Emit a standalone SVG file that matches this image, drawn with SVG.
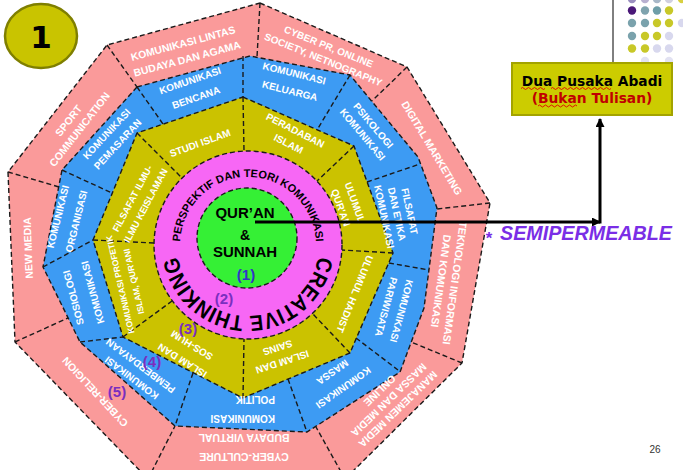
<svg xmlns="http://www.w3.org/2000/svg" width="683" height="470" viewBox="0 0 683 470">
<defs>
<style>
.ring{stroke:#1a1a1a;stroke-width:1.4;stroke-dasharray:5 3}
.dv{fill:none;stroke:#1a1a1a;stroke-width:1.4;stroke-dasharray:5 3}
.lbl{font-family:"Liberation Sans",Arial,sans-serif;font-weight:bold;fill:#ffffff;text-anchor:middle}
.pk{font-size:10.5px}
.bl{font-size:10px}
.yl{font-size:10px}
.blk{font-family:"Liberation Sans",Arial,sans-serif;font-weight:bold;fill:#000000}
.num{font-family:"Liberation Sans",Arial,sans-serif;font-weight:bold;font-size:15px;fill:#7a2fbf;text-anchor:middle}
.conn{stroke:#000;stroke-width:3;fill:none}
</style>
<marker id="ah" markerWidth="9" markerHeight="9" refX="8" refY="4.5" orient="auto" markerUnits="userSpaceOnUse">
<path d="M0,0 L9,4.5 L0,9 z" fill="#000"/>
</marker>
<path id="arcTop" d="M 180,245 A 68,68 0 0 1 316,245"/>
<path id="arcBot" d="M 319,245 A 71,71 0 0 1 177,245"/>
</defs>
<rect width="683" height="470" fill="#ffffff"/>

<g id="decor-dots">
<line x1="613" y1="0" x2="613" y2="63" stroke="#000" stroke-width="1"/>
<circle cx="632" cy="-1" r="4.2" fill="#9b8fc0"/><circle cx="645" cy="-1" r="4.2" fill="#b8b0d0"/><circle cx="657" cy="-1" r="4.2" fill="#a8b8c8"/><circle cx="669" cy="-1" r="4.2" fill="#d0d0e0"/><circle cx="682" cy="-1" r="4.2" fill="#d8d040"/>
<circle cx="632" cy="10.5" r="4.2" fill="#4a1878"/><circle cx="645" cy="10.5" r="4.2" fill="#7fa3ae"/><circle cx="657" cy="10.5" r="4.2" fill="#6e9ea8"/><circle cx="669" cy="10.5" r="4.2" fill="#c8c828"/>
<circle cx="632" cy="23" r="4.2" fill="#7aa2ac"/><circle cx="645" cy="23" r="4.2" fill="#7aa2ac"/><circle cx="657" cy="23" r="4.2" fill="#c8c828"/><circle cx="669" cy="23" r="4.2" fill="#c8c828"/><circle cx="682" cy="23" r="4.2" fill="#d8d8ee"/>
<circle cx="632" cy="36" r="4.2" fill="#7aa2ac"/><circle cx="645" cy="36" r="4.2" fill="#c8c828"/><circle cx="657" cy="36" r="4.2" fill="#c8c828"/><circle cx="669" cy="36" r="4.2" fill="#d8d8ee"/>
<circle cx="632" cy="48.5" r="4.2" fill="#c8c828"/><circle cx="645" cy="48.5" r="4.2" fill="#c8c828"/><circle cx="657" cy="48.5" r="4.2" fill="#d8d8ee"/><circle cx="669" cy="48.5" r="4.2" fill="#d8d8ee"/>
<circle cx="645" cy="61" r="4.2" fill="#e2e2f2"/><circle cx="669" cy="61" r="4.2" fill="#e2e2f2"/>
</g>

<g id="title-badge">
<ellipse cx="41" cy="36" rx="36" ry="32" fill="#c9c400" stroke="#7f7f00" stroke-width="2.5"/>
<text x="41" y="48" font-family="DejaVu Sans, sans-serif" font-weight="bold" font-size="31" text-anchor="middle" fill="#000">1</text>
</g>

<g id="ring-5-outer">
<polygon class="ring" fill="#fa9a9a" points="260,3 407,67 490,203 462,363 345,479 148,479 15,342 8,172 107,45"/>
</g>
<g id="ring-4-blue">
<polygon class="ring" fill="#3d9bf3" points="137,87 250,56 350,75 418,157 437,208 424,308 400,372 307,432 175,426 80,342 43,267 62,170"/>
</g>
<g id="ring-3-yellow">
<polygon class="ring" fill="#cbc200" points="243,97 354,146 393,253 350,353 243,398 123,337 93,240 137,133"/>
</g>
<g id="ring-2-magenta">
<circle class="ring" cx="248" cy="245" r="94" fill="#f767f5"/>
</g>
<g id="ring-1-core">
<circle class="ring" cx="247" cy="238" r="50" fill="#35f035"/>
</g>

<g id="dividers">
<line class="dv" x1="107" y1="45" x2="137" y2="87"/>
<line class="dv" x1="260" y1="3" x2="257" y2="57"/>
<line class="dv" x1="407" y1="67" x2="372" y2="101"/>
<line class="dv" x1="490" y1="203" x2="437" y2="209"/>
<line class="dv" x1="462" y1="363" x2="411" y2="342"/>
<line class="dv" x1="345" y1="479" x2="316" y2="427"/>
<line class="dv" x1="148" y1="479" x2="175" y2="426"/>
<line class="dv" x1="15" y1="342" x2="68" y2="318"/>
<line class="dv" x1="8" y1="172" x2="59" y2="187"/>
<line class="dv" x1="62" y1="170" x2="112" y2="193"/>
<line class="dv" x1="137" y1="87" x2="163" y2="124"/>
<line class="dv" x1="243" y1="56" x2="243" y2="97"/>
<line class="dv" x1="350" y1="75" x2="317" y2="130"/>
<line class="dv" x1="367" y1="182" x2="420" y2="164"/>
<line class="dv" x1="389" y1="263" x2="429" y2="270"/>
<line class="dv" x1="356" y1="338" x2="398" y2="370"/>
<line class="dv" x1="288" y1="379" x2="307" y2="432"/>
<line class="dv" x1="193" y1="373" x2="175" y2="426"/>
<line class="dv" x1="80" y1="342" x2="123" y2="337"/>
<line class="dv" x1="43" y1="267" x2="93" y2="240"/>
<line class="dv" x1="243" y1="97" x2="244" y2="151"/>
<line class="dv" x1="354" y1="146" x2="317" y2="181"/>
<line class="dv" x1="393" y1="253" x2="342" y2="250"/>
<line class="dv" x1="350" y1="353" x2="312" y2="313"/>
<line class="dv" x1="243" y1="398" x2="244" y2="339"/>
<line class="dv" x1="123" y1="337" x2="172" y2="301"/>
<line class="dv" x1="93" y1="240" x2="154" y2="243"/>
<line class="dv" x1="137" y1="133" x2="182" y2="178"/>
</g>

<g id="outer-labels">
<text class="lbl pk" transform="translate(185,51) rotate(-15)"><tspan x="0" y="-4.2">KOMUNIKASI LINTAS</tspan><tspan x="0" y="11.8">BUDAYA DAN AGAMA</tspan></text>
<text class="lbl" font-size="10" transform="translate(326,53) rotate(22)"><tspan x="0" y="-3.4">CYBER PR, ONLINE</tspan><tspan x="0" y="10.6">SOCIETY, NETNOGRAPHY</tspan></text>
<text class="lbl pk" transform="translate(432,148) rotate(59)"><tspan x="0" y="3.8">DIGITAL MARKETING</tspan></text>
<text class="lbl pk" transform="translate(448,282) rotate(98)"><tspan x="0" y="-3.2">TEKNOLOGI INFORMASI</tspan><tspan x="0" y="10.8">DAN KOMUNIKASI</tspan></text>
<text class="lbl pk" transform="translate(389,400) rotate(136)"><tspan x="0" y="-9.2">MANAJEMEN MEDIA</tspan><tspan x="0" y="3.8">MASSA DAN MEDIA</tspan><tspan x="0" y="16.8">ONLINE</tspan></text>
<text class="lbl pk" transform="translate(244,447) rotate(180)"><tspan x="0" y="-5.7">CYBER-CULTURE</tspan><tspan x="0" y="13.3">BUDAYA VIRTUAL</tspan></text>
<text class="lbl pk" transform="translate(95,392) rotate(-133)"><tspan x="0" y="3.8">CYBER-RELIGION</tspan></text>
<text class="lbl pk" transform="translate(28,248) rotate(-92)"><tspan x="0" y="3.8">NEW MEDIA</tspan></text>
<text class="lbl pk" transform="translate(74,125) rotate(-52)"><tspan x="0" y="-3.2">SPORT</tspan><tspan x="0" y="10.8">COMMUNICATION</tspan></text>
</g>

<g id="blue-labels">
<text class="lbl bl" transform="translate(112,139) rotate(-47)"><tspan x="0" y="-3.9">KOMUNIKASI</tspan><tspan x="0" y="11.1">PEMASARAN</tspan></text>
<text class="lbl bl" transform="translate(193,89) rotate(-19)"><tspan x="0" y="-5.4">KOMUNIKASI</tspan><tspan x="0" y="12.6">BENCANA</tspan></text>
<text class="lbl bl" transform="translate(292,82) rotate(14)"><tspan x="0" y="-5.4">KOMUNIKASI</tspan><tspan x="0" y="12.6">KELUARGA</tspan></text>
<text class="lbl bl" transform="translate(368,130) rotate(50)"><tspan x="0" y="-3.4">PSIKOLOGI</tspan><tspan x="0" y="10.6">KOMUNIKASI</tspan></text>
<text class="lbl bl" transform="translate(397,214) rotate(78)"><tspan x="0" y="-9.4">FILSAFAT</tspan><tspan x="0" y="3.6">DAN ETIKA</tspan><tspan x="0" y="16.6">KOMUNIKASI</tspan></text>
<text class="lbl bl" transform="translate(394,309) rotate(105)"><tspan x="0" y="-4.4">KOMUNIKASI</tspan><tspan x="0" y="11.6">PARIWISATA</tspan></text>
<text class="lbl bl" transform="translate(338,380) rotate(145)"><tspan x="0" y="-5.9">KOMUNIKASI</tspan><tspan x="0" y="13.1">MASSA</tspan></text>
<text class="lbl bl" style="text-anchor:start" transform="translate(242,409) rotate(180)"><tspan x="-33" y="-5.9">KOMUNIKASI</tspan><tspan x="-33" y="13.1">POLITIK</tspan></text>
<text class="lbl bl" transform="translate(136,372) rotate(-143)"><tspan x="0" y="-3.9">KOMUNIKASI</tspan><tspan x="0" y="11.1">PEMBERDAYAAN</tspan></text>
<text class="lbl bl" transform="translate(83,295) rotate(-105)"><tspan x="0" y="-6.4">SOSIOLOGI</tspan><tspan x="0" y="13.6">KOMUNIKASI</tspan></text>
<text class="lbl bl" transform="translate(67,219) rotate(-76)"><tspan x="0" y="-5.9">KOMUNIKASI</tspan><tspan x="0" y="13.1">ORGANISASI</tspan></text>
</g>

<g id="yellow-labels">
<text class="lbl yl" transform="translate(200,143) rotate(-20)"><tspan x="0" y="3.6">STUDI ISLAM</tspan></text>
<text class="lbl yl" transform="translate(292,137) rotate(27)"><tspan x="0" y="-3.9">PERADABAN</tspan><tspan x="0" y="11.1">ISLAM</tspan></text>
<text class="lbl yl" transform="translate(348,205) rotate(70)"><tspan x="0" y="-3.9">ULUMUL</tspan><tspan x="0" y="11.1">QUR'AN</tspan></text>
<text class="lbl yl" transform="translate(355,294) rotate(112)"><tspan x="0" y="3.6">ULUMUL HADIST</tspan></text>
<text class="lbl yl" transform="translate(280,355) rotate(162)"><tspan x="0" y="-3.9">ISLAM DAN</tspan><tspan x="0" y="11.1">SAINS</tspan></text>
<text class="lbl yl" transform="translate(187,353) rotate(-148)"><tspan x="0" y="-5.4">ISLAM DAN</tspan><tspan x="0" y="12.6">SOS-HUM</tspan></text>
<text class="lbl" font-size="8.5" transform="translate(127,283) rotate(-103)"><tspan x="0" y="-3.9">KOMUNIKASI PROFETIK</tspan><tspan x="0" y="10.1">ISLAM, QUR'ANI</tspan></text>
<text class="lbl" font-size="9.5" transform="translate(139,202) rotate(-62)"><tspan x="0" y="-4.1">FILSAFAT ILMU-</tspan><tspan x="0" y="10.9">ILMU KEISLAMAN</tspan></text>
</g>

<g id="magenta-labels">
<text class="blk" font-size="11"><textPath href="#arcTop" startOffset="50%" text-anchor="middle">PERSPEKTIF DAN TEORI KOMUNIKASI</textPath></text>
<text class="blk" font-size="22"><textPath href="#arcBot" startOffset="50%" text-anchor="middle" textLength="200" lengthAdjust="spacingAndGlyphs">CREATIVE THINKING</textPath></text>
</g>

<g id="core-labels">
<text class="blk" font-size="15" x="245" y="218" text-anchor="middle">QUR’AN</text>
<text class="blk" font-size="14" x="245" y="240" text-anchor="middle">&amp;</text>
<text class="blk" font-size="15" x="245" y="257" text-anchor="middle">SUNNAH</text>
<text class="num" x="246" y="280" font-size="16" style="fill:#3434c8">(1)</text>
</g>

<g id="level-numbers">
<text class="num" x="224" y="304">(2)</text>
<text class="num" x="188" y="334">(3)</text>
<text class="num" x="152" y="367">(4)</text>
<text class="num" x="117" y="397">(5)</text>
</g>

<g id="connectors">
<line class="conn" x1="255" y1="222" x2="600" y2="222" marker-end="url(#ah)"/>
<line class="conn" x1="600" y1="223.5" x2="600" y2="119" marker-end="url(#ah)"/>
</g>

<g id="box-dua-pusaka">
<rect x="512" y="63" width="160" height="52" fill="#cccc00" stroke="#a3a300" stroke-width="2"/>
<text x="592" y="86" font-family="DejaVu Sans, sans-serif" font-weight="bold" font-size="13.8" text-anchor="middle" fill="#000">Dua Pusaka Abadi</text>
<text x="592" y="103" font-family="DejaVu Sans, sans-serif" font-weight="bold" font-size="13.8" text-anchor="middle" fill="#c00000">(Bukan Tulisan)</text>
<path d="M521,88.5 q1.5,-2 3,0 t3,0 t3,0 t3,0 t3,0 t3,0 t3,0 t3,0 M551,88.5 q1.5,-2 3,0 t3,0 t3,0 t3,0 t3,0 t3,0 t3,0 t3,0 t3,0 t3,0 t3,0 t3,0 t3,0 t3,0 t3,0 t3,0 t3,0 t3,0 t3,0 t3,0 M538,106 q1.5,-2 3,0 t3,0 t3,0 t3,0 t3,0 t3,0 t3,0 t3,0 t3,0 t3,0 t3,0 t3,0 t3,0" fill="none" stroke="#e00000" stroke-width="0.9"/>
</g>

<g id="semipermeable">
<text font-family="Liberation Sans, Arial, sans-serif" font-weight="bold" font-style="italic" fill="#7a2ee6"><tspan x="485" y="244" font-size="17">*</tspan><tspan x="500" y="240" font-size="21" textLength="172" lengthAdjust="spacingAndGlyphs">SEMIPERMEABLE</tspan></text>
</g>

<g id="page-number">
<text x="655" y="453" font-family="Liberation Sans, Arial, sans-serif" font-size="10" text-anchor="middle" fill="#333">26</text>
</g>
</svg>
